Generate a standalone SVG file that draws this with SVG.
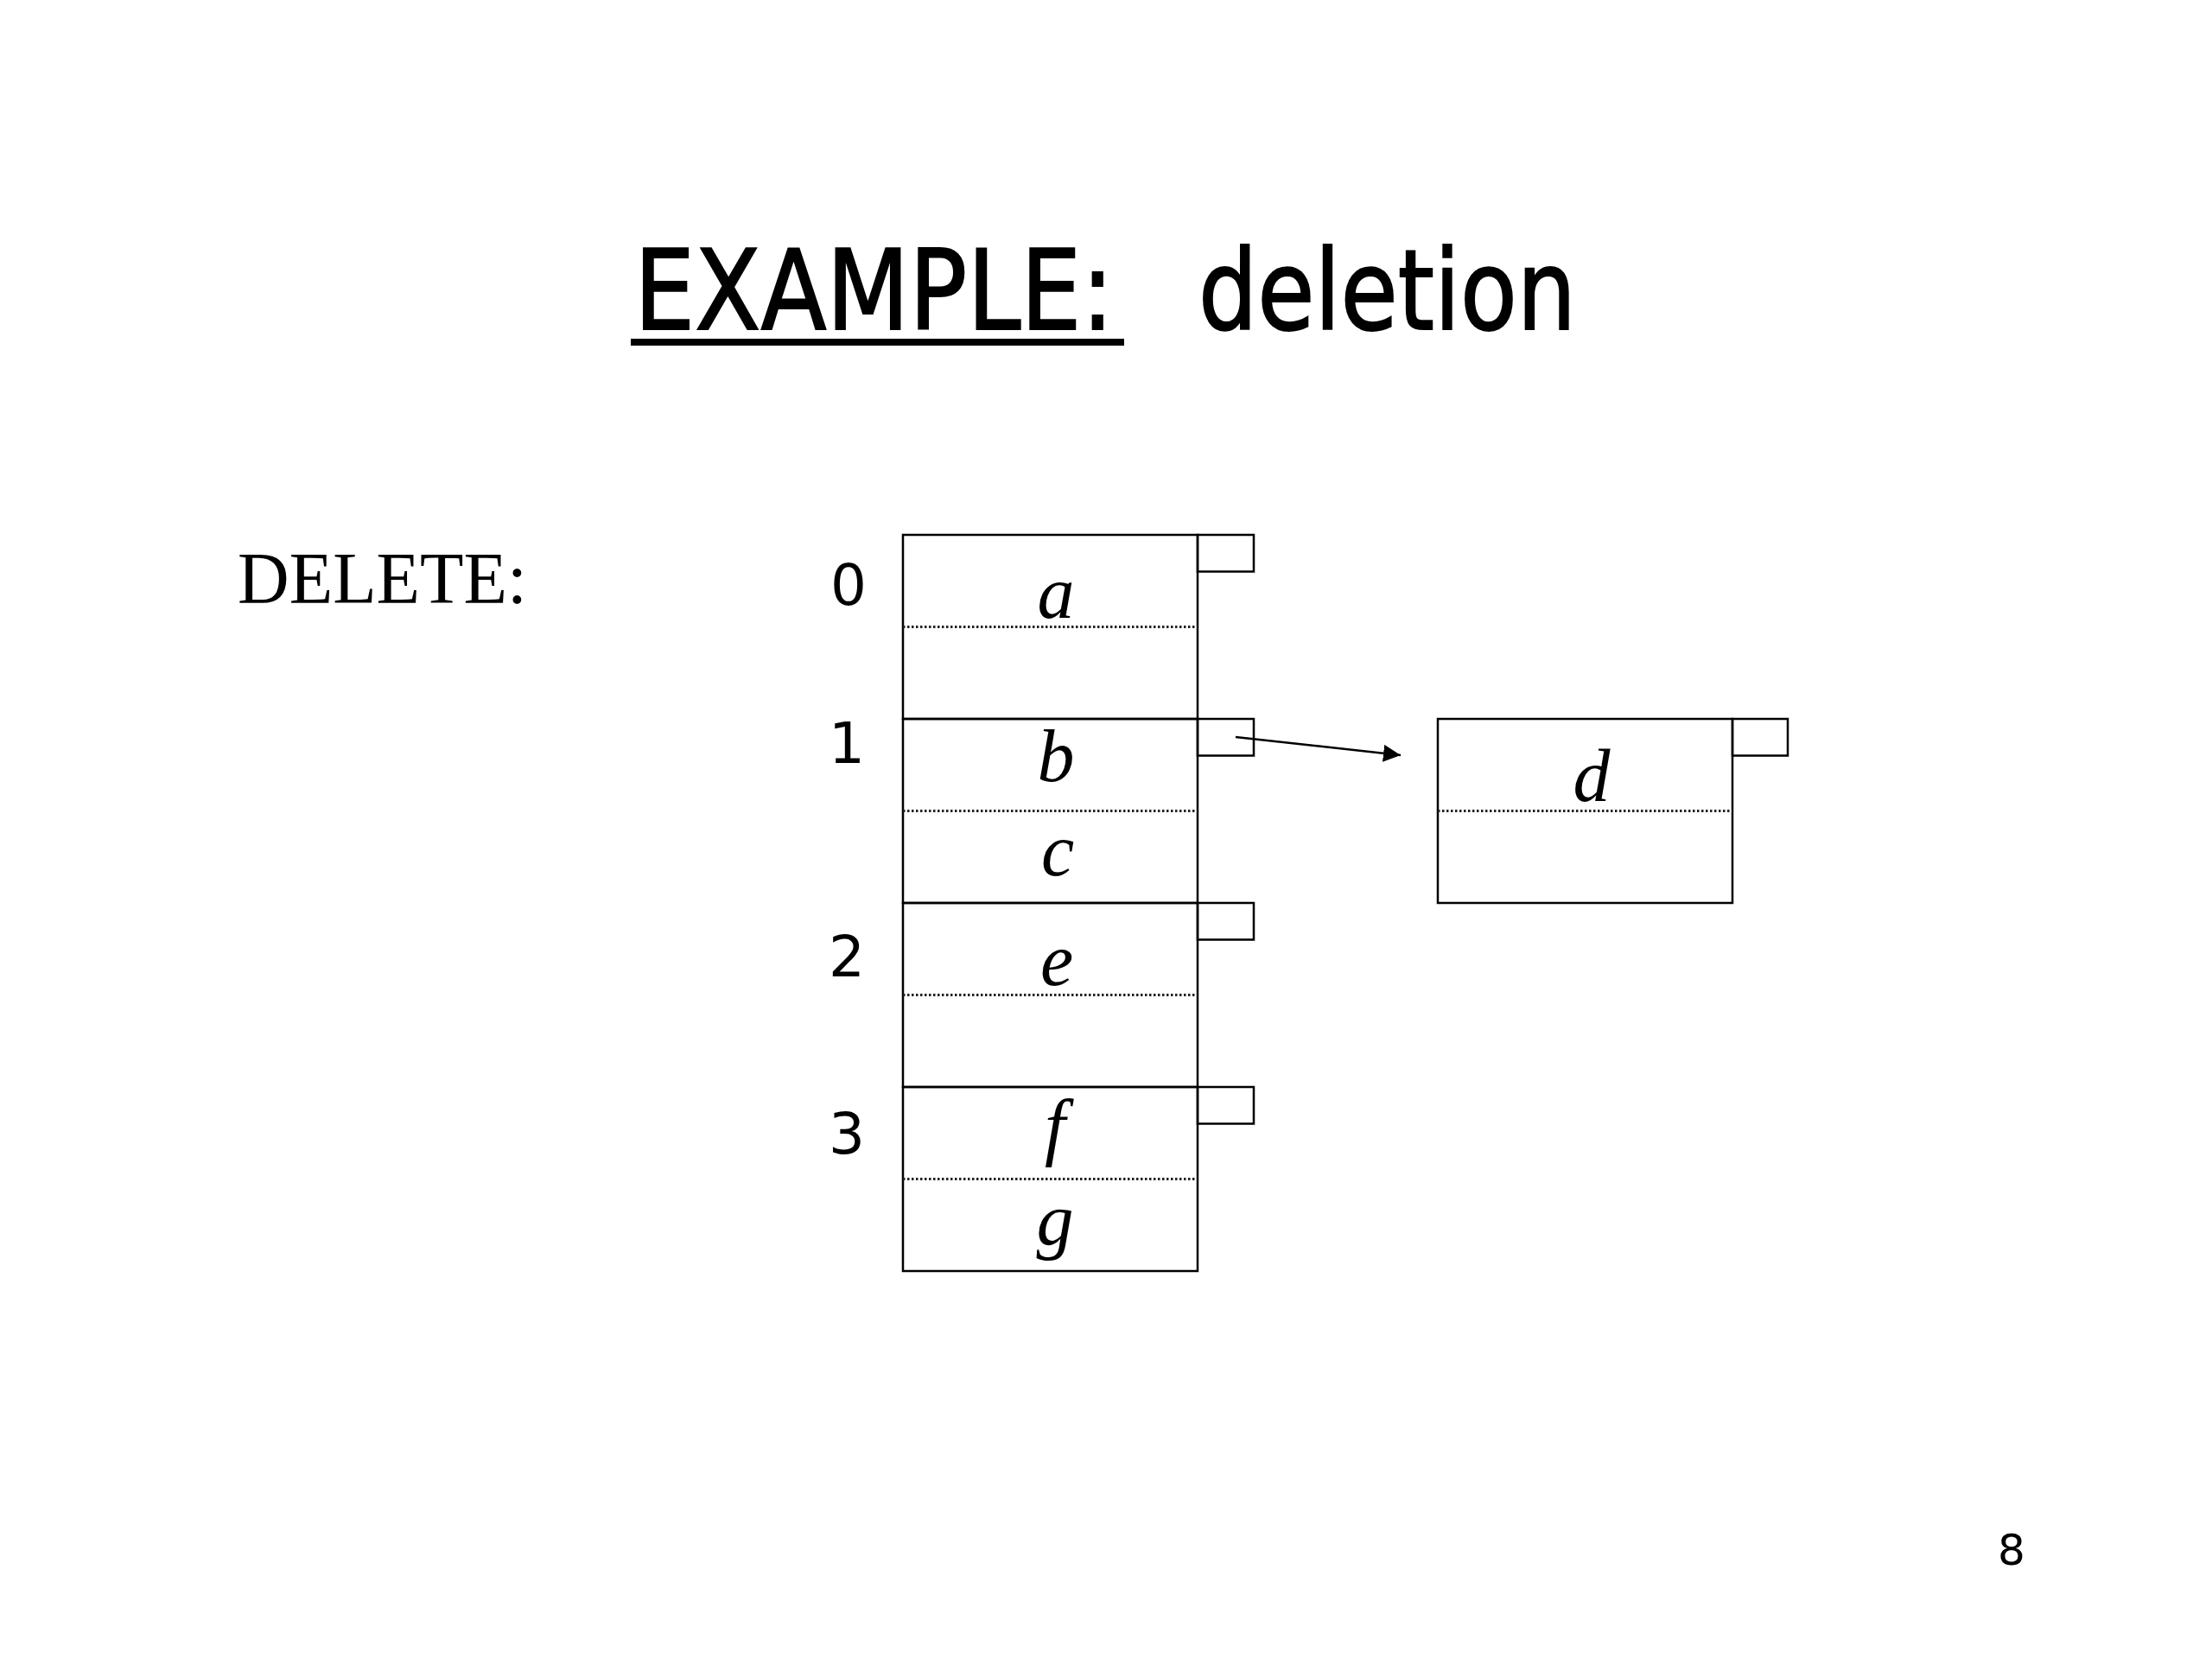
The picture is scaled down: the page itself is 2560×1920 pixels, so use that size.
<svg xmlns="http://www.w3.org/2000/svg" width="2560" height="1920" viewBox="0 0 2560 1920">
<style>
.box{fill:none;stroke:#000;stroke-width:2.5}
.dot{fill:none;stroke:#222;stroke-width:3;stroke-dasharray:2.5 2.5}
.cell{font-family:"Liberation Serif",serif;font-style:italic;font-size:86px;text-anchor:middle;fill:#000}
.idx{font-family:"DejaVu Sans",sans-serif;font-size:66px;text-anchor:middle;fill:#000}
.title{font-family:"DejaVu Sans",sans-serif;font-size:128px;fill:#000;stroke:#000;stroke-width:2}
</style>
<defs>
<marker id="arr" markerUnits="userSpaceOnUse" markerWidth="22" markerHeight="20" refX="20" refY="10" orient="auto">
<path d="M0,0 L20,10 L0,20 Z" fill="#000"/>
</marker>
</defs>
<rect width="2560" height="1920" fill="#fff"/>
<g id="title">
<text class="title" x="734" y="381" textLength="555" lengthAdjust="spacingAndGlyphs">EXAMPLE:</text>
<rect x="730" y="392" width="571" height="8" fill="#000"/>
<text class="title" x="1387" y="381" textLength="437" lengthAdjust="spacingAndGlyphs">deletion</text>
</g>
<text id="delete-label" x="275" y="698" font-family="Liberation Serif, serif" font-size="84" textLength="335" lengthAdjust="spacingAndGlyphs">DELETE:</text>
<g id="bucket0">
<rect class="box" x="1045" y="619" width="341" height="213"/>
<rect class="box" x="1386" y="619" width="65" height="42.5"/>
<line class="dot" x1="1045" y1="725.5" x2="1386" y2="725.5"/>
<text class="cell" x="1222" y="715">a</text>
<text class="idx" x="982" y="700">0</text>
</g>
<g id="bucket1">
<rect class="box" x="1045" y="832" width="341" height="213"/>
<rect class="box" x="1386" y="832" width="65" height="42.5"/>
<line class="dot" x1="1045" y1="938.5" x2="1386" y2="938.5"/>
<text class="cell" x="1222" y="904">b</text>
<text class="cell" x="1224" y="1013">c</text>
<text class="idx" x="980" y="883">1</text>
</g>
<g id="bucket2">
<rect class="box" x="1045" y="1045" width="341" height="213"/>
<rect class="box" x="1386" y="1045" width="65" height="42.5"/>
<line class="dot" x1="1045" y1="1151.5" x2="1386" y2="1151.5"/>
<text class="cell" x="1223" y="1140">e</text>
<text class="idx" x="980" y="1130">2</text>
</g>
<g id="bucket3">
<rect class="box" x="1045" y="1258" width="341" height="213"/>
<rect class="box" x="1386" y="1258" width="65" height="42.5"/>
<line class="dot" x1="1045" y1="1364.5" x2="1386" y2="1364.5"/>
<text class="cell" x="1221" y="1332">f</text>
<text class="cell" x="1221" y="1440">g</text>
<text class="idx" x="980" y="1335">3</text>
</g>
<g id="overflow-d">
<rect class="box" x="1664" y="832" width="341" height="213"/>
<rect class="box" x="2005" y="832" width="64" height="42.5"/>
<line class="dot" x1="1664" y1="938.5" x2="2005" y2="938.5"/>
<text class="cell" x="1842" y="927">d</text>
</g>
<g id="connectors">
<line x1="1430" y1="853" x2="1621" y2="874" stroke="#000" stroke-width="2.5" marker-end="url(#arr)"/>
</g>
<text id="page" x="2328" y="1811" font-family="DejaVu Sans, sans-serif" font-size="50" text-anchor="middle">8</text>
</svg>
